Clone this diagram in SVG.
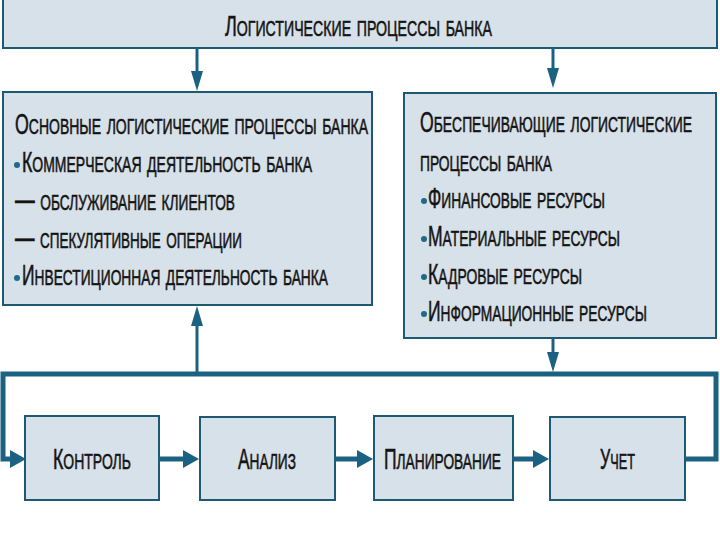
<svg xmlns="http://www.w3.org/2000/svg" width="720" height="540" viewBox="0 0 720 540">
<style>
.box{fill:#d7e1e9;stroke:#1d5a72;stroke-width:2}
.t{font-family:"Liberation Sans",Arial,sans-serif;font-variant:small-caps;font-size:33px;fill:#141414;stroke:#141414;stroke-width:0.6}
.b{font-size:29px}
.bul{fill:#1f6a88}
.c{fill:none;stroke:#1b6282}
.thin{stroke-width:3}
.thick{stroke-width:5}
</style>
<defs>
<marker id="ah" markerUnits="userSpaceOnUse" viewBox="0 0 20 12" markerWidth="20" markerHeight="12" refX="1" refY="6" orient="auto">
<path d="M0,0 L20,6 L0,12 z" fill="#1b6282"/>
</marker>
<marker id="ahb" markerUnits="userSpaceOnUse" viewBox="0 0 16 18" markerWidth="16" markerHeight="18" refX="1" refY="9" orient="auto">
<path d="M0,0 L16,9 L0,18 z" fill="#1b6282"/>
</marker>
</defs>
<rect width="720" height="540" fill="#ffffff"/>
<g id="top">
<rect class="box" x="3" y="-2" width="714" height="50"/>
<text class="t" transform="translate(225 36) scale(0.62 1)" textLength="430.6" lengthAdjust="spacingAndGlyphs"><tspan class="b">Л</tspan>огистические процессы банка</text>
</g>
<g id="main">
<rect class="box" x="3" y="92" width="369" height="213"/>
<text class="t" transform="translate(15 134) scale(0.62 1)" textLength="569.4" lengthAdjust="spacingAndGlyphs"><tspan class="b">О</tspan>сновные логистические процессы банка</text>
<circle class="bul" cx="17" cy="165" r="3"/>
<text class="t" transform="translate(22 172) scale(0.62 1)" textLength="467.7" lengthAdjust="spacingAndGlyphs"><tspan class="b">К</tspan>оммерческая деятельность банка</text>
<text class="t" transform="translate(15 210) scale(0.62 1)" textLength="354.8" lengthAdjust="spacingAndGlyphs">— обслуживание клиентов</text>
<text class="t" transform="translate(15 248) scale(0.62 1)" textLength="366.1" lengthAdjust="spacingAndGlyphs">— спекулятивные операции</text>
<circle class="bul" cx="17" cy="278" r="3"/>
<text class="t" transform="translate(22 285) scale(0.62 1)" textLength="493.5" lengthAdjust="spacingAndGlyphs"><tspan class="b">И</tspan>нвестиционная деятельность банка</text>
</g>
<g id="support">
<rect class="box" x="404" y="93" width="312" height="245"/>
<text class="t" transform="translate(420 132) scale(0.62 1)" textLength="438.7" lengthAdjust="spacingAndGlyphs"><tspan class="b">О</tspan>беспечивающие логистические</text>
<text class="t" transform="translate(420 171) scale(0.62 1)" textLength="212.9" lengthAdjust="spacingAndGlyphs">процессы банка</text>
<circle class="bul" cx="424" cy="201" r="3"/>
<text class="t" transform="translate(428 208) scale(0.62 1)" textLength="285.5" lengthAdjust="spacingAndGlyphs"><tspan class="b">Ф</tspan>инансовые ресурсы</text>
<circle class="bul" cx="424" cy="239" r="3"/>
<text class="t" transform="translate(428 246) scale(0.62 1)" textLength="309.7" lengthAdjust="spacingAndGlyphs"><tspan class="b">М</tspan>атериальные ресурсы</text>
<circle class="bul" cx="424" cy="277" r="3"/>
<text class="t" transform="translate(428 284) scale(0.62 1)" textLength="248.4" lengthAdjust="spacingAndGlyphs"><tspan class="b">К</tspan>адровые ресурсы</text>
<circle class="bul" cx="424" cy="314" r="3"/>
<text class="t" transform="translate(428 321) scale(0.62 1)" textLength="353.2" lengthAdjust="spacingAndGlyphs"><tspan class="b">И</tspan>нформационные ресурсы</text>
</g>
<g id="control">
<rect class="box" x="25" y="416" width="134" height="84"/>
<text class="t" transform="translate(53 469) scale(0.62 1)" textLength="125.8" lengthAdjust="spacingAndGlyphs"><tspan class="b">К</tspan>онтроль</text>
</g>
<g id="analysis">
<rect class="box" x="200" y="417" width="135" height="83"/>
<text class="t" transform="translate(238 469) scale(0.62 1)" textLength="93.5" lengthAdjust="spacingAndGlyphs"><tspan class="b">А</tspan>нализ</text>
</g>
<g id="planning">
<rect class="box" x="374" y="416" width="139" height="84"/>
<text class="t" transform="translate(384 469) scale(0.62 1)" textLength="188.7" lengthAdjust="spacingAndGlyphs"><tspan class="b">П</tspan>ланирование</text>
</g>
<g id="accounting">
<rect class="box" x="550" y="417" width="135" height="83"/>
<text class="t" transform="translate(600 469) scale(0.62 1)" textLength="56.5" lengthAdjust="spacingAndGlyphs"><tspan class="b">У</tspan>чет</text>
</g>
<g id="connectors">
<line class="c thin" x1="197" y1="48" x2="197" y2="72" marker-end="url(#ah)"/>
<line class="c thin" x1="553" y1="48" x2="553" y2="69" marker-end="url(#ah)"/>
<line class="c thin" x1="197" y1="374" x2="197" y2="325" marker-end="url(#ah)"/>
<line class="c thin" x1="553" y1="338" x2="553" y2="353" marker-end="url(#ah)"/>
<path class="c thick" d="M685,459 H716 V374 H3 V459 H11" marker-end="url(#ahb)"/>
<line class="c thick" x1="159" y1="459" x2="184" y2="459" marker-end="url(#ahb)"/>
<line class="c thick" x1="335" y1="459" x2="358" y2="459" marker-end="url(#ahb)"/>
<line class="c thick" x1="513" y1="459" x2="534" y2="459" marker-end="url(#ahb)"/>
</g>
</svg>
